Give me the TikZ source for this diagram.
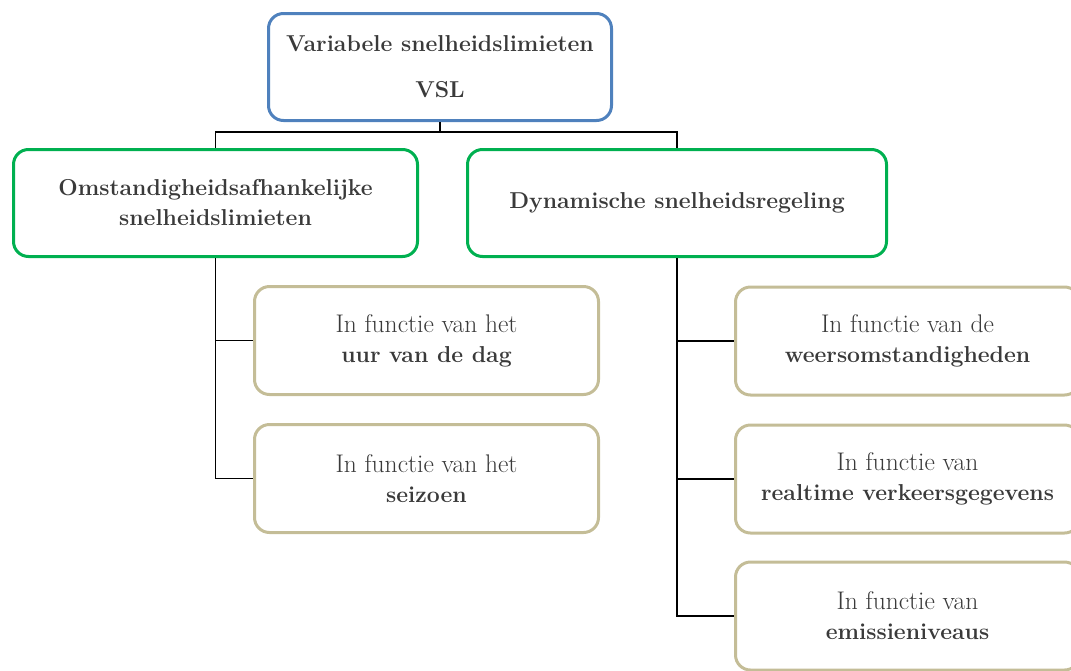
\documentclass[tikz,border=0pt]{standalone}
\usepackage{xcolor}
\definecolor{vblue}{HTML}{4F81BD}
\definecolor{vgreen}{HTML}{00B050}
\definecolor{vtan}{HTML}{C4BD97}
\definecolor{vtext}{HTML}{3A3A3A}
\newcommand\boldtxt[1]{{\fontsize{23}{30}\selectfont\bfseries #1}}
\begin{document}
\begin{tikzpicture}[x=1pt,y=-1pt,
  box/.style={draw, rounded corners=15pt, line width=3pt, fill=white, align=center,
    text=vtext, inner sep=0pt, font=\fontsize{25.5}{30}\selectfont},
  topbox/.style={box, draw=vblue, minimum width=343pt, minimum height=107pt},
  greenbox/.style={box, draw=vgreen, minimum height=107pt},
  tanbox/.style={box, draw=vtan, minimum width=344pt, minimum height=108pt},
  conn/.style={draw=black, line width=1.8pt}]
\useasboundingbox (0,0) rectangle (1071,670);
\clip (0,0) rectangle (1071,670);
\node[topbox] (vsl) at (440,67) {\boldtxt{Variabele snelheidslimieten}\\[16pt]\boldtxt{VSL}};
\node[greenbox, minimum width=404pt] (g1) at (215.5,203) {\boldtxt{Omstandigheidsafhankelijke}\\\boldtxt{snelheidslimieten}};
\node[greenbox, minimum width=419pt] (g2) at (677,203) {\boldtxt{Dynamische snelheidsregeling}};
\node[tanbox] (t1) at (426.5,340.5) {In functie van het\\\boldtxt{uur van de dag}};
\node[tanbox] (t2) at (426.5,478.5) {In functie van het\\\boldtxt{seizoen}};
\node[tanbox] (r1) at (907.5,341) {In functie van de\\\boldtxt{weersomstandigheden}};
\node[tanbox] (r2) at (907.5,479) {In functie van\\\boldtxt{realtime verkeersgegevens}};
\node[tanbox] (r3) at (907.5,616) {In functie van\\\boldtxt{emissieniveaus}};
\coordinate (j) at (440,132);
\draw[conn] (vsl.south) -- (j);
\draw[conn] (g1.north) -- (g1.north |- j) -- (g2.north |- j) -- (g2.north);
\draw[conn] (g1.south) |- (t1.west);
\draw[conn] (g1.south) |- (t2.west);
\draw[conn] (g2.south) |- (r1.west);
\draw[conn] (g2.south) |- (r2.west);
\draw[conn] (g2.south) |- (r3.west);
\end{tikzpicture}
\end{document}
